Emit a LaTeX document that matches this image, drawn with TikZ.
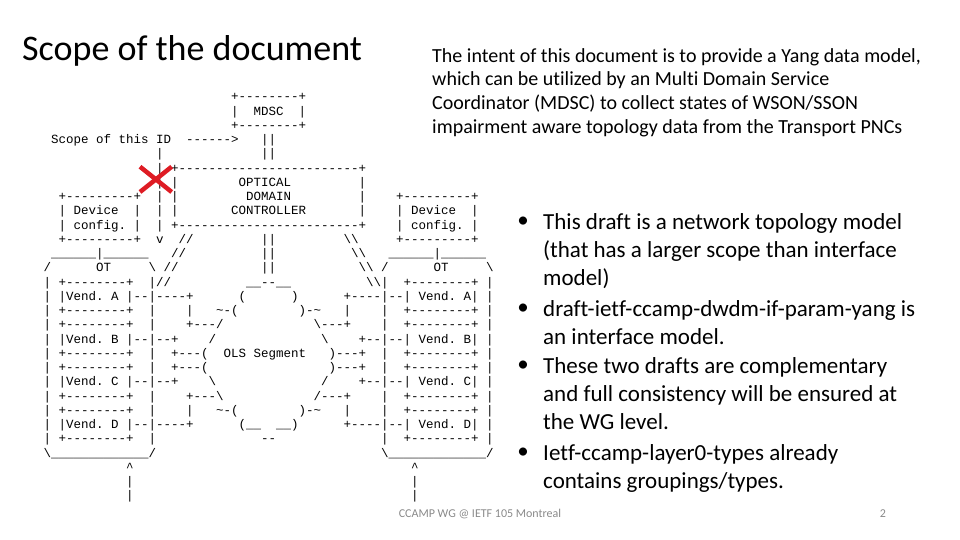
\documentclass[tikz,border=0pt]{standalone}
\usepackage{fontspec}
\setmainfont{Carlito}[Ligatures={TeX,NoCommon}]
\setmonofont{Liberation Mono}
\usepackage{fancyvrb}
\usepackage{tikz}
\definecolor{CrossRed}{RGB}{222, 28, 36}
\definecolor{FootGray}{RGB}{137, 137, 137}
\fvset{fontsize=\fontsize{12.5pt}{14.25pt}\selectfont}
\tikzset{
    titletext/.style={anchor=base west, inner sep=0pt, font=\fontsize{36}{43}\selectfont},
    introtext/.style={anchor=north west, inner sep=0pt, align=left, font=\fontsize{20}{23.7}\selectfont},
    itemtext/.style={anchor=north west, inner sep=0pt, align=left, font=\fontsize{23}{28.3}\selectfont},
    itemdot/.style={inner sep=0pt, font=\fontsize{23}{28}\selectfont},
    artbox/.style={anchor=base west, inner sep=0pt},
    foottext/.style={inner sep=0pt, text=FootGray, font=\fontsize{12}{14}\selectfont},
    crossline/.style={draw=CrossRed, line width=4.5pt}
}
\begin{SaveVerbatim}{scopeart}
                         +--------+
                         |  MDSC  |
                         +--------+
 Scope of this ID  ------>   ||
               |             ||
               | +------------------------+
               | |        OPTICAL         |
  +---------+  | |         DOMAIN         |    +---------+
  | Device  |  | |       CONTROLLER       |    | Device  |
  | config. |  | +------------------------+    | config. |
  +---------+  v  //         ||         \\     +---------+
 ______|______   //          ||          \\   ______|______
/      OT     \ //           ||           \\ /      OT     \
| +--------+  |//          __--__          \\|  +--------+ |
| |Vend. A |--|----+      (      )      +----|--| Vend. A| |
| +--------+  |    |   ~-(        )-~   |    |  +--------+ |
| +--------+  |    +---/            \---+    |  +--------+ |
| |Vend. B |--|--+    /              \    +--|--| Vend. B| |
| +--------+  |  +---(  OLS Segment   )---+  |  +--------+ |
| +--------+  |  +---(                )---+  |  +--------+ |
| |Vend. C |--|--+    \              /    +--|--| Vend. C| |
| +--------+  |    +---\            /---+    |  +--------+ |
| +--------+  |    |   ~-(        )-~   |    |  +--------+ |
| |Vend. D |--|----+      (__  __)      +----|--| Vend. D| |
| +--------+  |              --              |  +--------+ |
\_____________/                              \_____________/
           ^                                     ^
           |                                     |
           |                                     |
\end{SaveVerbatim}

\begin{document}
\begin{tikzpicture}[x=1pt, y=-1pt]
    \useasboundingbox (0,0) rectangle (960,540);

    % slide title and intro
    \node (title) [titletext] at (22,61) {Scope of the document};
    \node (intent) [introtext] at (432,48) {
        The intent of this document is to provide a Yang data model,\\
        which can be utilized by an Multi Domain Service\\
        Coordinator (MDSC) to collect states of WSON/SSON\\
        impairment aware topology data from the Transport PNCs};

    % ascii figure from the draft
    \node (art) [artbox] at (43.3,101) {\BUseVerbatim[baseline=t]{scopeart}};
    \draw[crossline] (140,166.7) -- (171.7,192);
    \draw[crossline] (140,192) -- (171.7,166.7);

    % bullets
    \node (d1) [itemdot] at (523,222) {\textbullet};
    \node (b1) [itemtext] at (543,213) {
        This draft is a network topology model\\
        (that has a larger scope than interface\\
        model)};
    \node (d2) [itemdot] at (523,309) {\textbullet};
    \node (b2) [itemtext] at (543,300) {
        draft-ietf-ccamp-dwdm-if-param-yang is\\
        an interface model.};
    \node (d3) [itemdot] at (523,366) {\textbullet};
    \node (b3) [itemtext] at (543,357) {
        These two drafts are complementary\\
        and full consistency will be ensured at\\
        the WG level.};
    \node (d4) [itemdot] at (523,453) {\textbullet};
    \node (b4) [itemtext] at (543,444) {
        Ietf-ccamp-layer0-types already\\
        contains groupings/types.};

    % footer
    \node (foot) [foottext] at (480,514) {CCAMP WG @ IETF 105 Montreal};
    \node (page) [foottext] at (883,514) {2};
\end{tikzpicture}
\end{document}
